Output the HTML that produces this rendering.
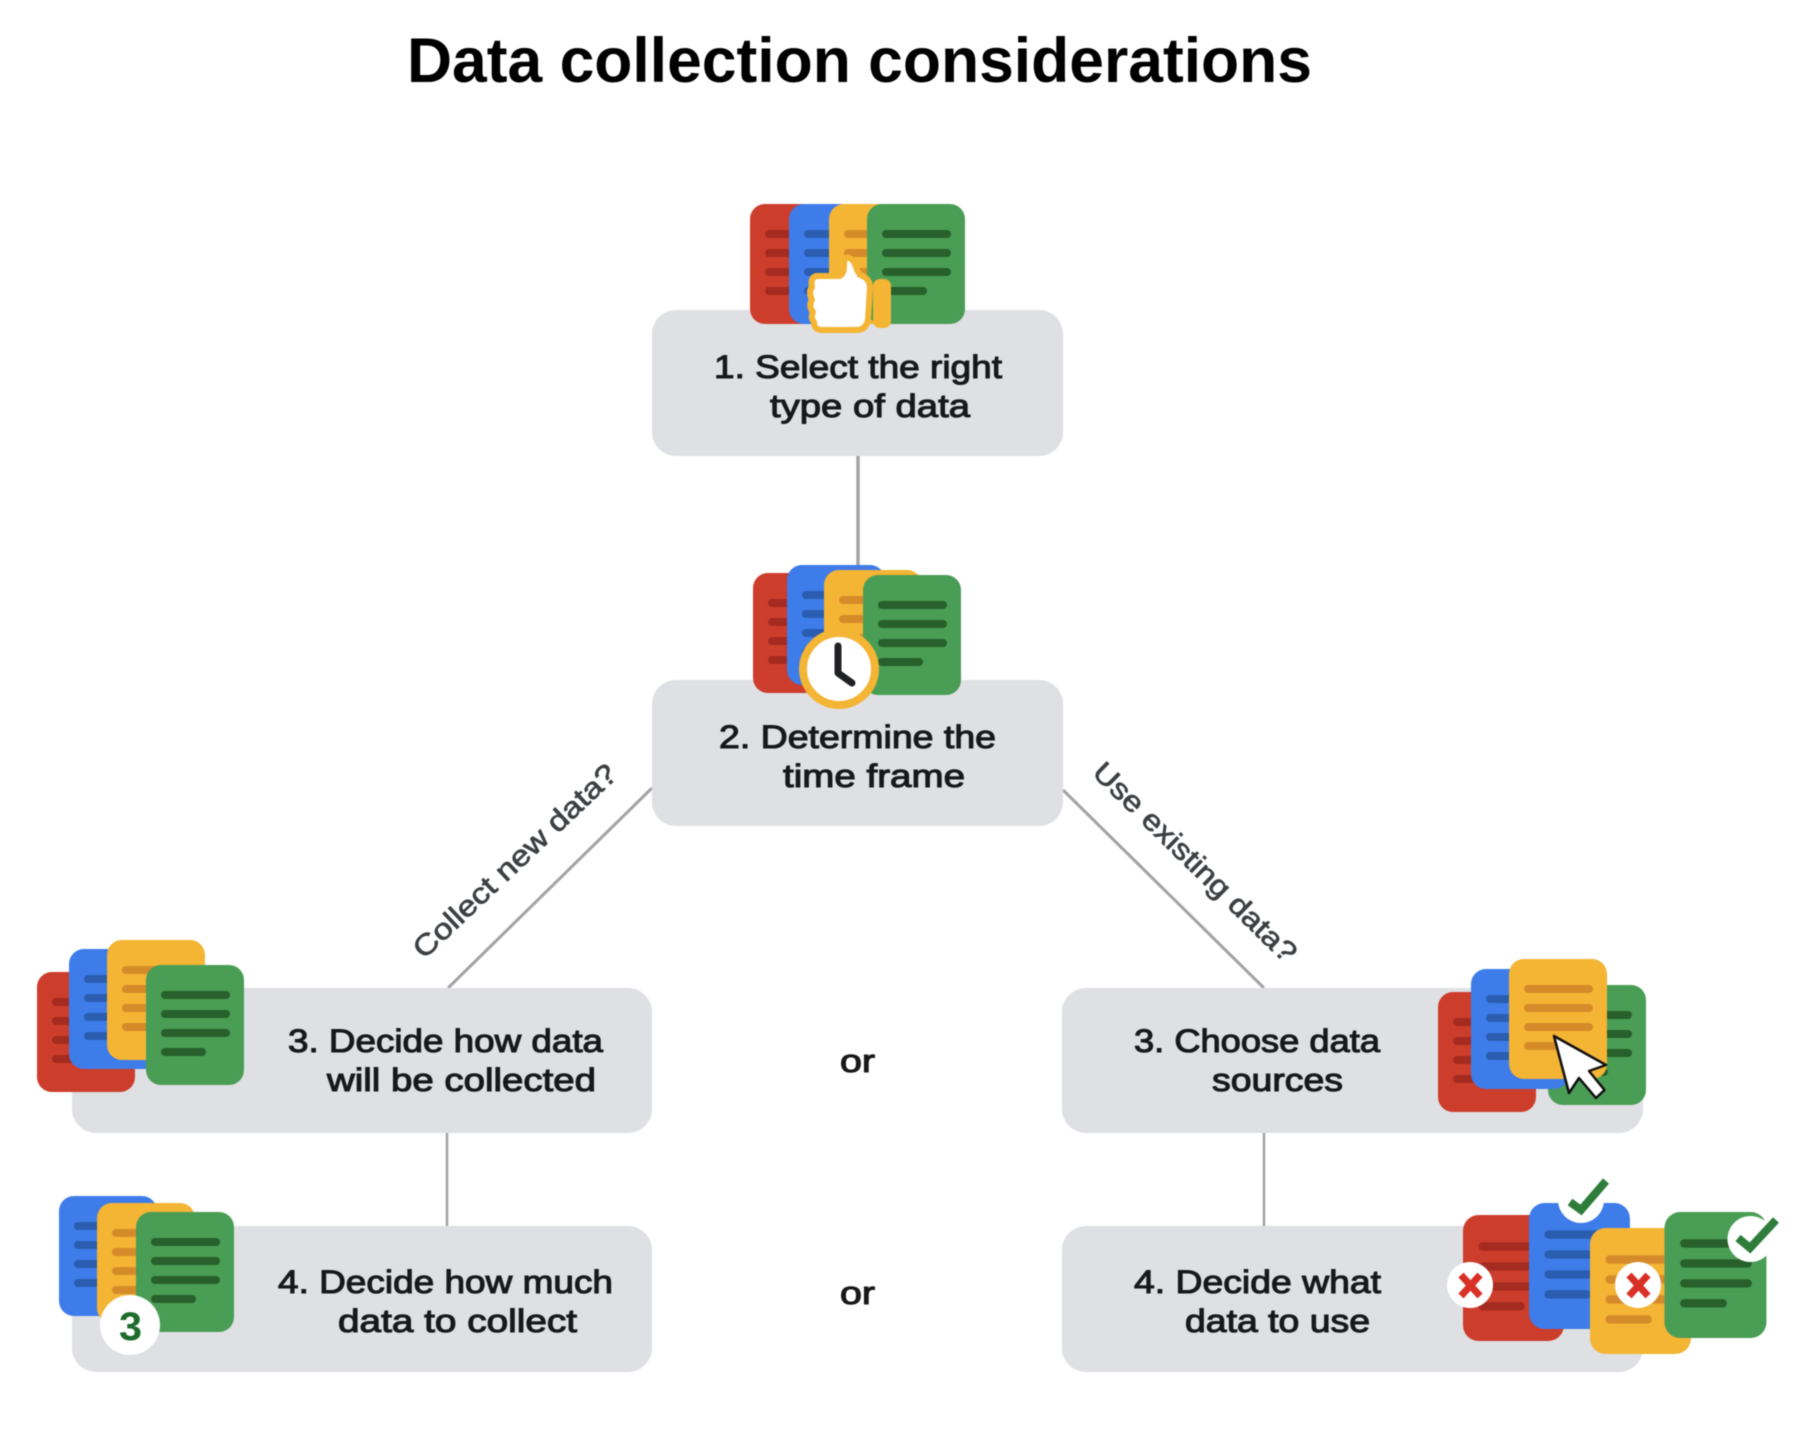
<!DOCTYPE html>
<html lang="en">
<head>
<meta charset="utf-8">
<title>Data collection considerations</title>
<style>
html,body{margin:0;padding:0;background:#fff;}
svg{display:block;filter:blur(0.55px);}
text{font-family:"Liberation Sans",Arial,sans-serif;}
.t{font-size:32px;fill:#17181a;stroke:#17181a;stroke-width:1.05px;}
.l{font-size:29px;fill:#3c4043;stroke:#3c4043;stroke-width:.7px;}
.box{fill:#dfe0e4;}
.ln{stroke:#a3a3a3;fill:none;}
</style>
</head>
<body>
<svg xmlns="http://www.w3.org/2000/svg" width="1808" height="1454" viewBox="0 0 1808 1454">
<defs>
<g id="R"><rect width="98" height="120" rx="15" fill="#cd3d2c"/><g fill="#a52b20"><rect x="15" y="26" width="69" height="8" rx="4"/><rect x="15" y="45" width="69" height="8" rx="4"/><rect x="15" y="64" width="69" height="8" rx="4"/><rect x="15" y="83" width="45" height="8" rx="4"/></g></g>
<g id="B"><rect width="98" height="120" rx="15" fill="#3d7ce9"/><g fill="#2a5db0"><rect x="15" y="26" width="69" height="8" rx="4"/><rect x="15" y="45" width="69" height="8" rx="4"/><rect x="15" y="64" width="69" height="8" rx="4"/><rect x="15" y="83" width="45" height="8" rx="4"/></g></g>
<g id="Y"><rect width="98" height="120" rx="15" fill="#f4b434"/><g fill="#d58b2a"><rect x="15" y="26" width="69" height="8" rx="4"/><rect x="15" y="45" width="69" height="8" rx="4"/><rect x="15" y="64" width="69" height="8" rx="4"/><rect x="15" y="83" width="45" height="8" rx="4"/></g></g>
<g id="G"><rect width="98" height="120" rx="15" fill="#4a9d55"/><g fill="#27602a"><rect x="15" y="26" width="69" height="8" rx="4"/><rect x="15" y="45" width="69" height="8" rx="4"/><rect x="15" y="64" width="69" height="8" rx="4"/><rect x="15" y="83" width="45" height="8" rx="4"/></g></g>
</defs>

<rect width="1808" height="1454" fill="#fff"/>

<!-- title -->
<text x="407" y="82" font-size="63" font-weight="700" fill="#000" textLength="905" lengthAdjust="spacingAndGlyphs">Data collection considerations</text>

<!-- connectors -->
<path class="ln" stroke-width="3.5" d="M858 456V600"/>
<path class="ln" stroke-width="3" d="M652 788L448 988"/>
<path class="ln" stroke-width="3" d="M1063 790L1264 988"/>
<path class="ln" stroke-width="2.5" d="M447 1133V1226"/>
<path class="ln" stroke-width="2.5" d="M1264 1133V1226"/>

<!-- boxes -->
<rect class="box" x="652" y="310" width="411" height="146" rx="24"/>
<rect class="box" x="652" y="680" width="411" height="146" rx="24"/>
<rect class="box" x="72" y="988" width="580" height="145" rx="24"/>
<rect class="box" x="72" y="1226" width="580" height="146" rx="24"/>
<rect class="box" x="1062" y="988" width="581" height="145" rx="24"/>
<rect class="box" x="1062" y="1226" width="581" height="146" rx="24"/>

<!-- box labels -->
<text class="t" x="714" y="378" textLength="288" lengthAdjust="spacingAndGlyphs">1. Select the right</text>
<text class="t" x="770" y="417" textLength="200" lengthAdjust="spacingAndGlyphs">type of data</text>
<text class="t" x="719" y="748" textLength="277" lengthAdjust="spacingAndGlyphs">2. Determine the</text>
<text class="t" x="783" y="787" textLength="182" lengthAdjust="spacingAndGlyphs">time frame</text>
<text class="t" x="288" y="1052" textLength="315" lengthAdjust="spacingAndGlyphs">3. Decide how data</text>
<text class="t" x="327" y="1091" textLength="269" lengthAdjust="spacingAndGlyphs">will be collected</text>
<text class="t" x="278" y="1293" textLength="335" lengthAdjust="spacingAndGlyphs">4. Decide how much</text>
<text class="t" x="338" y="1332" textLength="239" lengthAdjust="spacingAndGlyphs">data to collect</text>
<text class="t" x="1134" y="1052" textLength="246" lengthAdjust="spacingAndGlyphs">3. Choose data</text>
<text class="t" x="1212" y="1091" textLength="131" lengthAdjust="spacingAndGlyphs">sources</text>
<text class="t" x="1134" y="1293" textLength="247" lengthAdjust="spacingAndGlyphs">4. Decide what</text>
<text class="t" x="1185" y="1332" textLength="185" lengthAdjust="spacingAndGlyphs">data to use</text>

<text class="t" x="840" y="1072" textLength="35" lengthAdjust="spacingAndGlyphs">or</text>
<text class="t" x="840" y="1304" textLength="35" lengthAdjust="spacingAndGlyphs">or</text>

<!-- rotated labels -->
<text class="l" transform="translate(424 960) rotate(-43.3)" textLength="268" lengthAdjust="spacingAndGlyphs">Collect new data?</text>
<text class="l" transform="translate(1091 774) rotate(44.4)" textLength="272" lengthAdjust="spacingAndGlyphs">Use existing data?</text>

<!-- icon 1 -->
<use href="#R" x="750" y="204"/><use href="#B" x="789" y="204"/><use href="#Y" x="829" y="204"/><use href="#G" x="867" y="204"/>
<path d="M816 276H838Q843 276 844 268L844 262Q846 255 851 259Q855 262 857 270L860 275Q870 278 870 288L868 320Q866 330 856 330H822Q814 330 814 322Q810 318 813 312Q808 306 812 300Q808 292 812 287Q810 278 816 276Z" fill="#fff" stroke="#f4b434" stroke-width="6" stroke-linejoin="round"/>
<rect x="873" y="279" width="18" height="49" rx="7" fill="#f4b434"/>

<!-- icon 2 -->
<use href="#R" x="753" y="573"/><use href="#B" x="787" y="565"/><use href="#Y" x="824" y="570"/><use href="#G" x="863" y="575"/>
<circle cx="839" cy="669" r="36" fill="#fff" stroke="#f4b434" stroke-width="8"/>
<path d="M838 646V673L852 683" fill="none" stroke="#202124" stroke-width="7" stroke-linecap="round" stroke-linejoin="round"/>

<!-- icon 3 left -->
<use href="#R" x="37" y="972"/><use href="#B" x="69" y="949"/><use href="#Y" x="107" y="940"/><use href="#G" x="146" y="965"/>

<!-- icon 4 left -->
<use href="#B" x="59" y="1196"/><use href="#Y" x="97" y="1203"/><use href="#G" x="136" y="1212"/>
<circle cx="130" cy="1325" r="30" fill="#fff"/>
<text x="119" y="1340" font-size="40" font-weight="700" fill="#1e6b2a" textLength="23" lengthAdjust="spacingAndGlyphs">3</text>

<!-- icon 3 right -->
<use href="#R" x="1438" y="992"/><use href="#G" x="1548" y="985"/><use href="#B" x="1471" y="969"/><use href="#Y" x="1509" y="959"/>
<path d="M1554 1036L1606 1065L1589 1071L1604.500 1090L1596 1098L1579 1078L1569 1093Z" fill="#fff" stroke="#111" stroke-width="2.500" stroke-linejoin="round"/>

<!-- icon 4 right -->
<g transform="translate(1463 1215) scale(1.03 1.05)"><use href="#R"/></g>
<g transform="translate(1529 1203) scale(1.03 1.05)"><use href="#B"/></g>
<g transform="translate(1590 1228) scale(1.03 1.05)"><use href="#Y"/></g>
<g transform="translate(1664.500 1212) scale(1.04 1.05)"><use href="#G"/></g>
<circle cx="1581" cy="1200" r="23" fill="#fff"/>
<path d="M1570 1202L1581 1210L1606 1181" fill="none" stroke="#2e7d3a" stroke-width="8"/>
<circle cx="1750.500" cy="1239" r="23" fill="#fff"/>
<path d="M1738 1238L1750 1248L1776 1220" fill="none" stroke="#2e7d3a" stroke-width="8"/>
<circle cx="1470" cy="1285" r="23" fill="#fff"/>
<path d="M1461 1275L1480 1296M1480 1275L1461 1296" fill="none" stroke="#d93025" stroke-width="7"/>
<circle cx="1638" cy="1285" r="23" fill="#fff"/>
<path d="M1629 1275L1648 1296M1648 1275L1629 1296" fill="none" stroke="#d93025" stroke-width="7"/>
</svg>
</body>
</html>
